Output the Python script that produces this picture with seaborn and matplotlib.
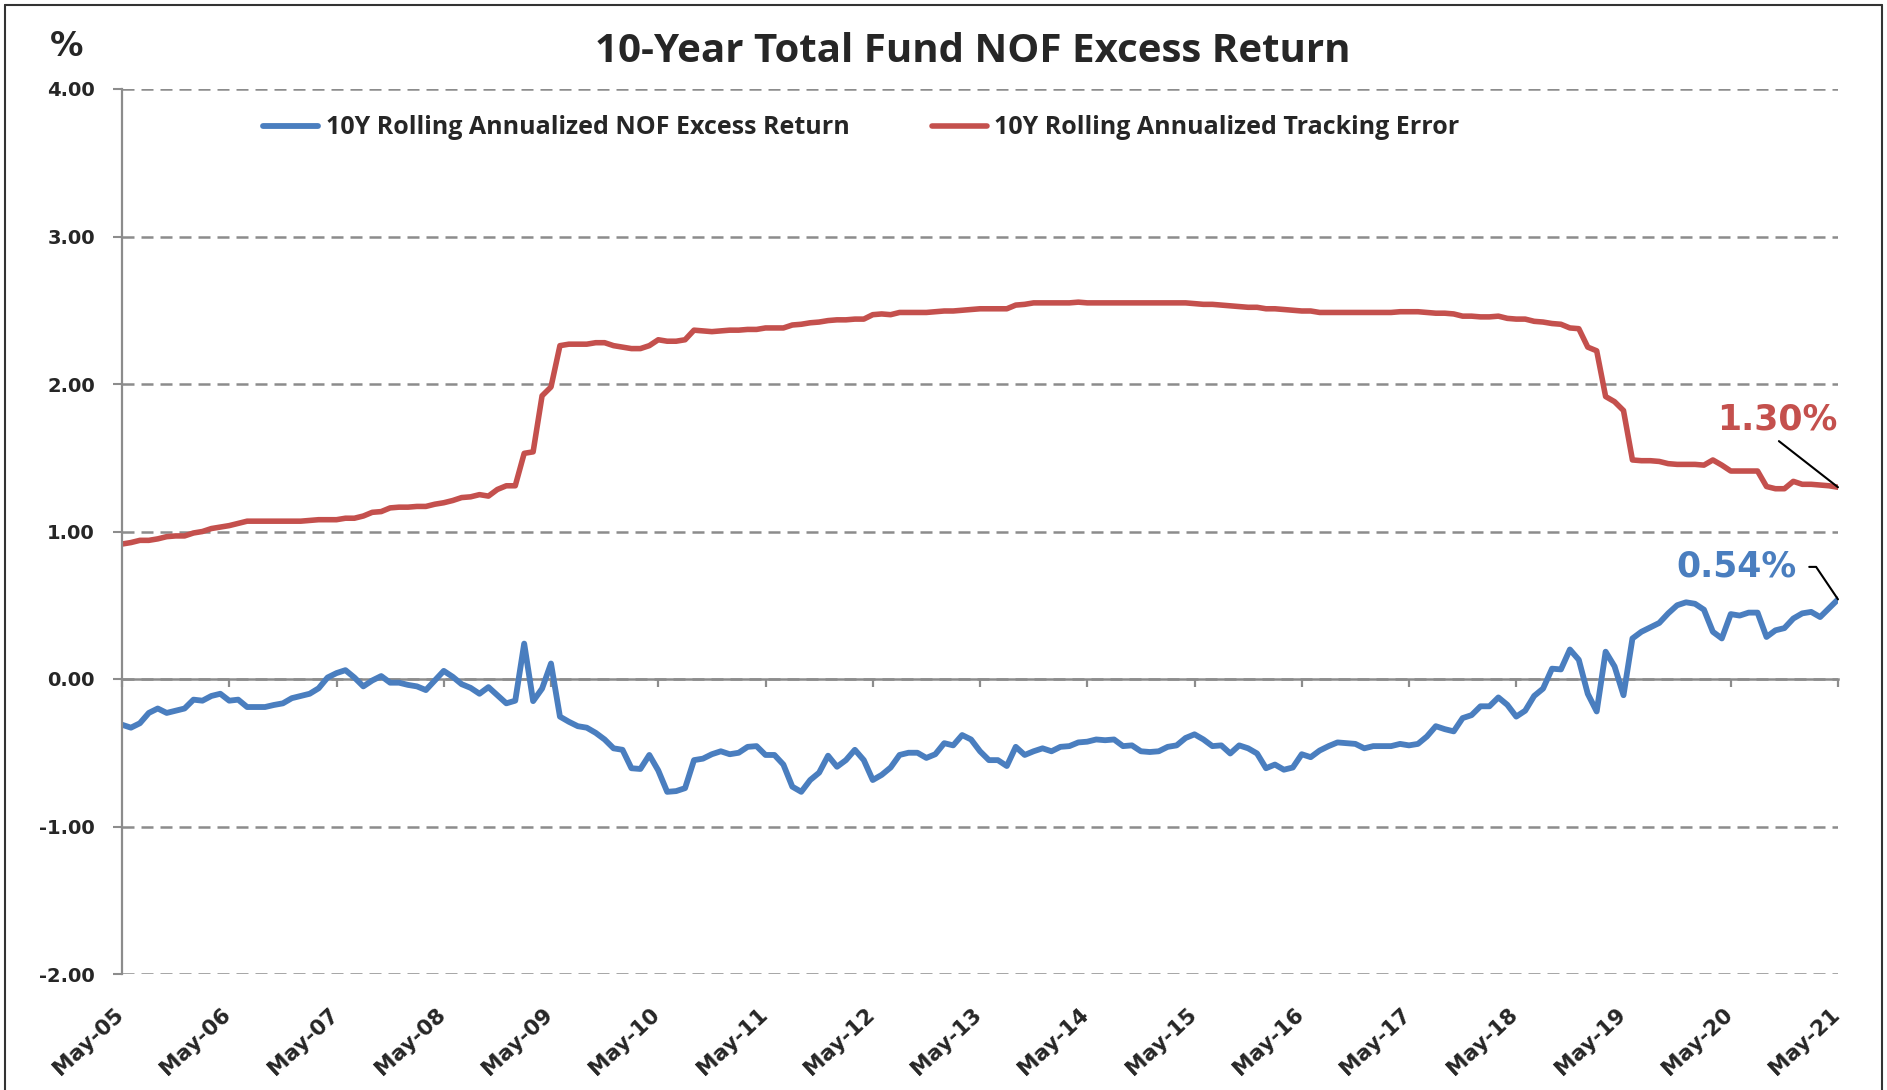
import numpy as np
import pandas as pd
import matplotlib
matplotlib.use("Agg")
import matplotlib.pyplot as plt
from matplotlib.lines import Line2D
from matplotlib.transforms import ScaledTranslation
import seaborn as sns

# monthly points, May-05 .. May-21
month_idx = list(range(193))
tick_pos = list(range(0, 193, 12))
tick_labels = ['May-05', 'May-06', 'May-07', 'May-08', 'May-09', 'May-10', 'May-11', 'May-12',
               'May-13', 'May-14', 'May-15', 'May-16', 'May-17', 'May-18', 'May-19', 'May-20', 'May-21']

excess_return = [
    -0.31, -0.33, -0.30, -0.23, -0.20, -0.23, -0.215, -0.20, -0.14, -0.147,
    -0.115, -0.10, -0.147, -0.14, -0.19, -0.19, -0.19, -0.176, -0.165, -0.13,
    -0.115, -0.10, -0.063, 0.01, 0.04, 0.06, 0.01, -0.05, -0.01, 0.02,
    -0.025, -0.025, -0.04, -0.05, -0.075, -0.01, 0.055, 0.015, -0.035, -0.06,
    -0.10, -0.055, -0.11, -0.165, -0.147, 0.24, -0.15, -0.065, 0.105, -0.255,
    -0.29, -0.32, -0.33, -0.365, -0.41, -0.47, -0.48, -0.605, -0.61, -0.515,
    -0.62, -0.765, -0.76, -0.74, -0.55, -0.54, -0.51, -0.49, -0.51, -0.50,
    -0.46, -0.455, -0.515, -0.515, -0.58, -0.73, -0.765, -0.685, -0.635, -0.52,
    -0.595, -0.55, -0.48, -0.55, -0.685, -0.65, -0.60, -0.515, -0.50, -0.50,
    -0.535, -0.51, -0.435, -0.45, -0.38, -0.41, -0.49, -0.55, -0.55, -0.59,
    -0.46, -0.515, -0.49, -0.47, -0.49, -0.46, -0.455, -0.43, -0.425, -0.41,
    -0.415, -0.41, -0.455, -0.45, -0.49, -0.495, -0.49, -0.46, -0.45, -0.40,
    -0.375, -0.41, -0.455, -0.45, -0.505, -0.45, -0.47, -0.505, -0.605, -0.58,
    -0.615, -0.60, -0.51, -0.53, -0.485, -0.455, -0.43, -0.435, -0.44, -0.47,
    -0.455, -0.455, -0.455, -0.44, -0.45, -0.44, -0.39, -0.32, -0.34, -0.355,
    -0.265, -0.245, -0.185, -0.185, -0.125, -0.175, -0.255, -0.215, -0.115, -0.065,
    0.07, 0.065, 0.20, 0.13, -0.10, -0.22, 0.185, 0.085, -0.11, 0.275,
    0.32, 0.35, 0.38, 0.445, 0.50, 0.52, 0.51, 0.47, 0.32, 0.275,
    0.44, 0.43, 0.45, 0.45, 0.285, 0.33, 0.345, 0.41, 0.445, 0.455,
    0.42, 0.48, 0.54]

tracking_error = [
    0.915, 0.925, 0.94, 0.94, 0.95, 0.965, 0.97, 0.97, 0.99, 1.00,
    1.02, 1.03, 1.04, 1.055, 1.07, 1.07, 1.07, 1.07, 1.07, 1.07,
    1.07, 1.075, 1.08, 1.08, 1.08, 1.09, 1.09, 1.105, 1.13, 1.135,
    1.16, 1.165, 1.165, 1.17, 1.17, 1.185, 1.195, 1.21, 1.23, 1.235,
    1.25, 1.24, 1.285, 1.31, 1.31, 1.53, 1.54, 1.92, 1.98, 2.26,
    2.27, 2.27, 2.27, 2.28, 2.28, 2.26, 2.25, 2.24, 2.24, 2.26,
    2.30, 2.29, 2.29, 2.30, 2.365, 2.36, 2.355, 2.36, 2.365, 2.365,
    2.37, 2.37, 2.38, 2.38, 2.38, 2.40, 2.405, 2.415, 2.42, 2.43,
    2.435, 2.435, 2.44, 2.44, 2.47, 2.475, 2.47, 2.485, 2.485, 2.485,
    2.485, 2.49, 2.495, 2.495, 2.50, 2.505, 2.51, 2.51, 2.51, 2.51,
    2.535, 2.54, 2.55, 2.55, 2.55, 2.55, 2.55, 2.555, 2.55, 2.55,
    2.55, 2.55, 2.55, 2.55, 2.55, 2.55, 2.55, 2.55, 2.55, 2.55,
    2.545, 2.54, 2.54, 2.535, 2.53, 2.525, 2.52, 2.52, 2.51, 2.51,
    2.505, 2.50, 2.495, 2.495, 2.485, 2.485, 2.485, 2.485, 2.485, 2.485,
    2.485, 2.485, 2.485, 2.49, 2.49, 2.49, 2.485, 2.48, 2.48, 2.475,
    2.46, 2.46, 2.455, 2.455, 2.46, 2.445, 2.44, 2.44, 2.425, 2.42,
    2.41, 2.405, 2.38, 2.375, 2.25, 2.225, 1.915, 1.88, 1.82, 1.485,
    1.48, 1.48, 1.475, 1.46, 1.455, 1.455, 1.455, 1.45, 1.485, 1.45,
    1.41, 1.41, 1.41, 1.41, 1.305, 1.29, 1.29, 1.34, 1.32, 1.32,
    1.315, 1.31, 1.30]

blue = '#4A7EBF'
red = '#C4504D'
grey = '#8c8c8c'

df = pd.DataFrame({'month': month_idx, 'excess': excess_return, 'te': tracking_error})

sns.set_style('white')
plt.rcParams['font.family'] = ['DejaVu Sans']
plt.rcParams['font.weight'] = 'bold'
head_family = ['Open Sans', 'DejaVu Sans']

fig = plt.figure(figsize=(18.87, 10.90), dpi=100)
ax = fig.add_axes([122 / 1887, 1 - 974 / 1090, (1838 - 122) / 1887, (974 - 89) / 1090])

sns.lineplot(data=df, x='month', y='excess', color=blue, lw=4.2, ax=ax,
             label='10Y Rolling Annualized NOF Excess Return')
sns.lineplot(data=df, x='month', y='te', color=red, lw=4.0, ax=ax,
             label='10Y Rolling Annualized Tracking Error')

ax.set_xlim(0, 192)
ax.set_ylim(-2, 4)
ax.set_xlabel('')
ax.set_ylabel('')

yt = np.arange(-2, 4.01, 1)
ax.set_yticks(yt)
ax.set_yticklabels([f'{v:.2f}' for v in yt])
ax.yaxis.grid(True, color=grey, lw=1.8, linestyle=(0, (4.8, 2.8)))
ax.xaxis.grid(False)
ax.tick_params(axis='y', left=True, length=6.5, width=1.5, color=grey, pad=13, labelsize=14)

ax.set_xticks(tick_pos)
ax.set_xticklabels(tick_labels, rotation=43, ha='right', va='top', rotation_mode='anchor')
ax.tick_params(axis='x', bottom=True, length=0, pad=22, labelsize=15.5)
for lab in ax.get_xticklabels():
    lab.set_transform(lab.get_transform() + ScaledTranslation(-8 / 100, 0, fig.dpi_scale_trans))

for s in ['top', 'right', 'bottom']:
    ax.spines[s].set_visible(False)
ax.spines['left'].set_color(grey)
ax.spines['left'].set_linewidth(1.6)

# zero line with year ticks
sec = ax.secondary_xaxis(1 / 3)
sec.set_xticks(tick_pos)
sec.set_xticklabels([])
sec.tick_params(bottom=True, length=6, width=1.6, color=grey, direction='out')
sec.spines['bottom'].set_color(grey)
sec.spines['bottom'].set_linewidth(1.8)

leg_font = {'family': head_family, 'weight': 'bold', 'size': 18}
h, l = ax.get_legend_handles_labels()
ax.legend(h, l, loc='center left', bbox_to_anchor=(263 / 1887, 1 - 128 / 1090),
          bbox_transform=fig.transFigure, ncol=2, frameon=False, handlelength=2.2,
          handletextpad=0.3, columnspacing=3.3, borderpad=0, borderaxespad=0, prop=leg_font)

fig.text(973 / 1887, 1 - 62 / 1090, '10-Year Total Fund NOF Excess Return', ha='center',
         va='baseline', fontsize=29, fontweight='bold', family=head_family)
fig.text(67 / 1887, 1 - 46 / 1090, '%', ha='center', va='center', fontsize=24, fontweight='bold')

ax.annotate(f'{tracking_error[-1]:.2f}%', xy=(192, tracking_error[-1]), xytext=(185.2, 1.756),
            ha='center', va='center', color=red, fontsize=25, fontweight='bold',
            annotation_clip=False,
            arrowprops=dict(arrowstyle='-', color='black', lw=1.5, relpos=(0.47, 0),
                            shrinkA=1, shrinkB=0))
ax.annotate(f'{excess_return[-1]:.2f}%', xy=(192, excess_return[-1]), xytext=(180.6, 0.76),
            ha='center', va='center', color=blue, fontsize=25, fontweight='bold',
            annotation_clip=False,
            arrowprops=dict(arrowstyle='-', color='black', lw=1.5, relpos=(1, 0.5),
                            shrinkA=7, shrinkB=0,
                            connectionstyle='angle,angleA=0,angleB=124,rad=0'))

# outer border (left, top, right)
for xs, ys in [([0.0025, 0.0025], [0, 0.9955]), ([0.0025, 0.9975], [0.9955, 0.9955]),
               ([0.9975, 0.9975], [0, 0.9955])]:
    fig.add_artist(Line2D(xs, ys, transform=fig.transFigure, color='#333333', lw=1.5))

fig.savefig('out.png', dpi=100)
